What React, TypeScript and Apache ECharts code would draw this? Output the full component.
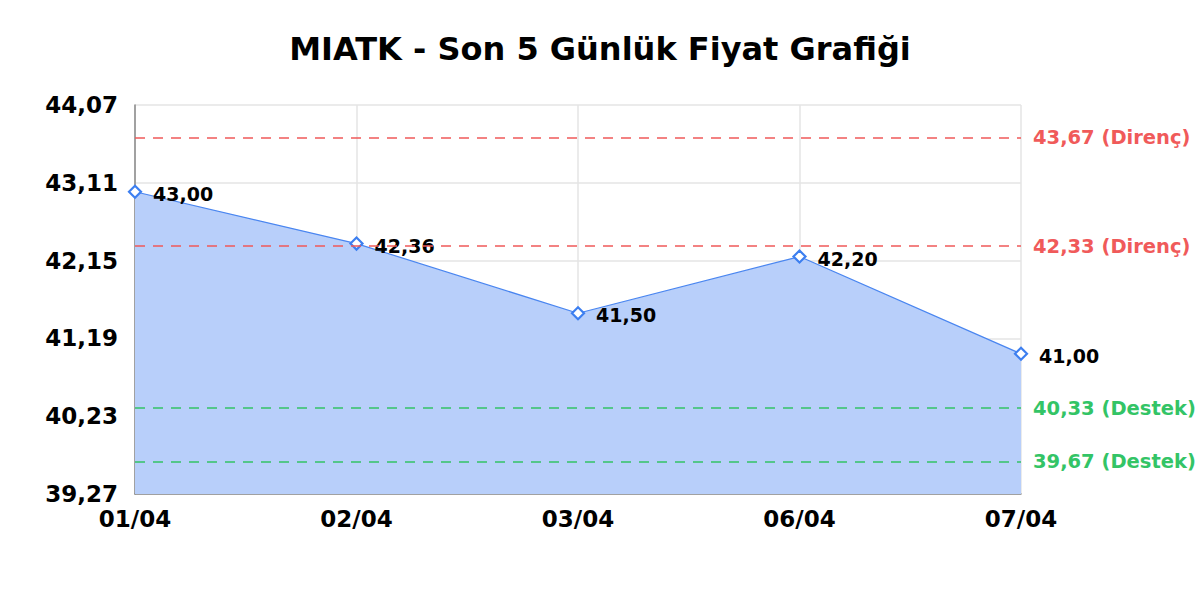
import { useEffect, useRef } from "react";
import * as echarts from "echarts";

const dates = ["01/04", "02/04", "03/04", "06/04", "07/04"];
const prices = [43.0, 42.36, 41.5, 42.2, 41.0];
const resistance = [43.67, 42.33];
const support = [40.33, 39.67];

// axis runs from 39,27 to 44,07 in 0,96 steps; values are shifted by the base so ticks start at min
const BASE = 39.27;
const SPAN = 4.8;
const STEP = 0.96;

const fmt = (v: number) => v.toFixed(2).replace(".", ",");
const FONT = "DejaVu Sans";

const App = () => {
  const chartRef = useRef<HTMLDivElement>(null);

  useEffect(() => {
    if (!chartRef.current) return;
    const chart = echarts.init(chartRef.current, undefined, { renderer: "svg" });

    const lineFor = (v: number, label: string, color: string) => ({
      yAxis: v - BASE,
      lineStyle: { color, type: [10, 8], width: 1.5 },
      label: {
        show: true,
        position: "end",
        distance: 12,
        formatter: `${fmt(v)} (${label})`,
        color,
        fontFamily: FONT,
        fontWeight: "bold",
        fontSize: 19.5,
      },
    });

    chart.setOption({
      animation: false,
      backgroundColor: "#ffffff",
      title: {
        text: "MIATK - Son 5 Günlük Fiyat Grafiği",
        left: "center",
        top: 28,
        textStyle: { fontFamily: FONT, fontWeight: "bold", fontSize: 32, color: "#000" },
      },
      grid: { left: 135, right: 179, top: 105, bottom: 106 },
      xAxis: {
        type: "category",
        data: dates,
        boundaryGap: false,
        axisLine: { lineStyle: { color: "#888888", width: 1.5 } },
        axisTick: { show: false },
        axisLabel: {
          margin: 13,
          color: "#000",
          fontFamily: FONT,
          fontWeight: "bold",
          fontSize: 23,
        },
        splitLine: { show: true, lineStyle: { color: "#e4e4e4", width: 1.5 } },
      },
      yAxis: {
        type: "value",
        min: 0,
        max: SPAN,
        interval: STEP,
        axisLine: { show: true, lineStyle: { color: "#888888", width: 1.5 } },
        axisTick: { show: false },
        axisLabel: {
          margin: 17,
          color: "#000",
          fontFamily: FONT,
          fontWeight: "bold",
          fontSize: 23,
          formatter: (v: number) => fmt(v + BASE),
        },
        splitLine: { show: true, lineStyle: { color: "#e4e4e4", width: 1.5 } },
      },
      series: [
        {
          type: "line",
          data: prices.map((p) => p - BASE),
          symbol: "diamond",
          symbolSize: 12,
          itemStyle: { color: "#ffffff", borderColor: "#3d7ff0", borderWidth: 2.2 },
          lineStyle: { color: "#4a86f0", width: 1.2 },
          areaStyle: { color: "#b8cffa", opacity: 1 },
          label: {
            show: true,
            position: "right",
            distance: 11,
            offset: [0, 2],
            color: "#000",
            fontFamily: FONT,
            fontWeight: "bold",
            fontSize: 19,
            formatter: (p: any) => fmt(prices[p.dataIndex]),
          },
          markLine: {
            silent: true,
            symbol: "none",
            data: [
              ...resistance.map((v) => lineFor(v, "Direnç", "#f05a5a")),
              ...support.map((v) => lineFor(v, "Destek", "#33c466")),
            ],
          },
          z: 3,
        },
      ],
    });

    return () => {
      chart.dispose();
    };
  }, []);

  return (
    <div
      ref={chartRef}
      style={{ position: "absolute", left: 0, top: 0, width: 1200, height: 600 }}
    />
  );
};

export default App;
